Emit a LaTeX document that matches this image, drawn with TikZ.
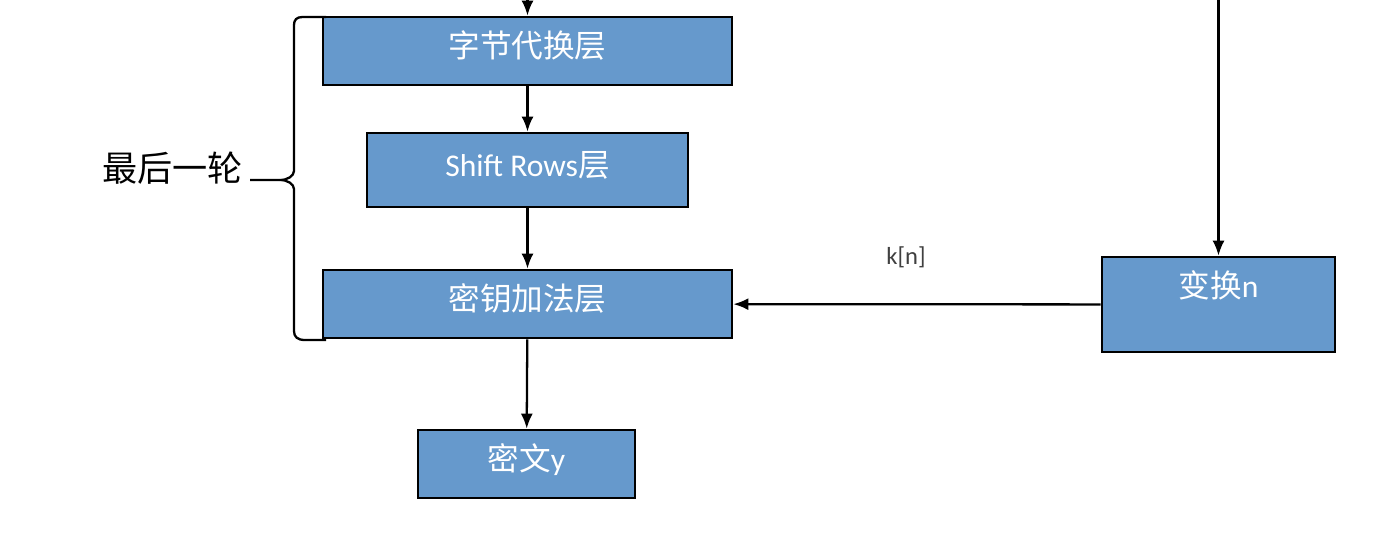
\documentclass[tikz,border=0pt]{standalone}
\usepackage{fontspec}
\setmainfont{Carlito}
\newfontfamily\cjk{Noto Sans CJK SC}
\definecolor{layerblue}{HTML}{6699CC}
\definecolor{labelgray}{HTML}{404040}
\usetikzlibrary{arrows.meta,positioning,calc}
\newcommand\boxfont{\fontsize{18}{21}\selectfont}

\begin{document}
\begin{tikzpicture}[
  >={Latex[length=3mm,width=2.4mm]},
  layer/.style={draw=black, line width=1.5pt, fill=layerblue, text=white,
                font=\boxfont, minimum height=1.36cm, inner sep=0pt,
                text height=0.5cm, text depth=0.25cm},
  flow/.style={->, line width=1.3pt, black},
  brace/.style={line width=1.3pt, black}
]
\useasboundingbox (0,0) rectangle (27.56,-10.8);
\node[layer, minimum width=8.18cm] (sub)    at (10.55,-1.02) {{\cjk 字节代换层}};
\node[layer, minimum width=6.42cm, minimum height=1.48cm] (shift) at (10.55,-3.40) {Shift Rows{\cjk 层}};
\node[layer, minimum width=8.18cm] (addkey) at (10.55,-6.08) {{\cjk 密钥加法层}};
\node[layer, minimum width=4.34cm] (cipher) at (10.53,-9.28) {{\cjk 密文}y};
\node[layer, minimum width=4.66cm, minimum height=1.9cm,
      label={[anchor=center, yshift=-0.6cm, text=white, font=\boxfont]north:{\cjk 变换}n}] (trans) at (24.37,-6.09) {};
\coordinate (intop) at (10.55,0);
\coordinate (ktop)  at (24.37,0);
\draw[flow] (intop) -- (sub);
\draw[flow] (sub)    -- (shift);
\draw[flow] (shift)  -- (addkey);
\draw[flow] (addkey) -- (cipher);
\draw[flow] (ktop)   -- (trans);
\draw[flow] (trans)  -- node[pos=0.53, above=0.58cm, font=\fontsize{14}{16}\selectfont, text=labelgray]{k[n]} (addkey);
% brace round the last round
\draw[brace] (6.52,-0.34) -- (6.05,-0.34) .. controls (5.93,-0.34) and (5.88,-0.4) .. (5.88,-0.5)
  -- (5.88,-3.42) .. controls (5.88,-3.52) and (5.75,-3.6) .. (5.6,-3.6)
  .. controls (5.75,-3.6) and (5.88,-3.68) .. (5.88,-3.78)
  -- (5.88,-6.62) .. controls (5.88,-6.74) and (5.95,-6.8) .. (6.1,-6.8) -- (6.52,-6.8);
\coordinate (bracetip) at (5.6,-3.6);
\node[anchor=base east, font=\fontsize{20}{24}\selectfont\cjk, inner sep=0pt] (last) at (4.86,-3.64) {最后一轮};
\draw[brace] (bracetip) -- ($(last.base east)+(0.14,0.04)$);
\end{tikzpicture}
\end{document}
